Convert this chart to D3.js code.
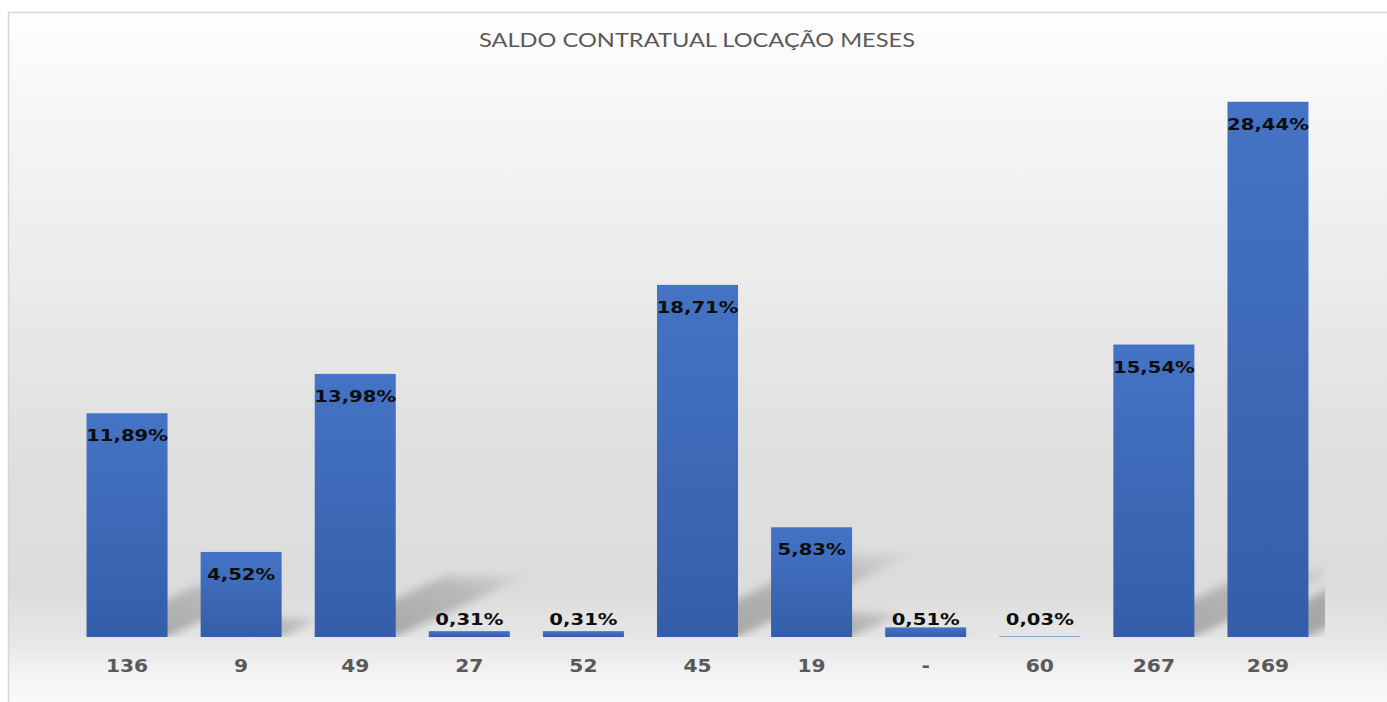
<!DOCTYPE html>
<html><head><meta charset="utf-8">
<script src="https://cdn.jsdelivr.net/npm/d3@7"></script>
<style>html,body{margin:0;padding:0;background:#fff;overflow:hidden}</style>
</head><body>
<svg id="c" width="1387" height="702"></svg>
<script>
const title = "SALDO CONTRATUAL LOCAÇÃO MESES";
const categories = ["136","9","49","27","52","45","19","-","60","267","269"];
const values = [11.89, 4.52, 13.98, 0.31, 0.31, 18.71, 5.83, 0.51, 0.03, 15.54, 28.44];
const valueLabels = ["11,89%","4,52%","13,98%","0,31%","0,31%","18,71%","5,83%","0,51%","0,03%","15,54%","28,44%"];

const W = 1387, H = 702;
const svg = d3.select("#c");
const defs = svg.append("defs");

// background gradient
const bg = defs.append("linearGradient").attr("id","bg").attr("x1",0).attr("y1",0).attr("x2",0).attr("y2",1);
[[0,"#fefefe"],[0.12,"#f7f7f7"],[0.35,"#ececec"],[0.6,"#e0e0e0"],[0.8,"#dcdcdc"],[0.88,"#e8e8e8"],[0.93,"#f6f6f6"],[1,"#fdfdfd"]]
  .forEach(([o,c])=>bg.append("stop").attr("offset",o).attr("stop-color",c));

const barG = defs.append("linearGradient").attr("id","barg").attr("x1",0).attr("y1",0).attr("x2",0).attr("y2",1);
barG.append("stop").attr("offset",0).attr("stop-color","#4573c5");
barG.append("stop").attr("offset",1).attr("stop-color","#345ea9");

const shG = defs.append("linearGradient").attr("id","shg").attr("x1",0).attr("y1",1).attr("x2",1).attr("y2",0);
shG.append("stop").attr("offset",0).attr("stop-color","#8a8a8a").attr("stop-opacity",0.75);
shG.append("stop").attr("offset",0.7).attr("stop-color","#8a8a8a").attr("stop-opacity",0.45);
shG.append("stop").attr("offset",1).attr("stop-color","#8a8a8a").attr("stop-opacity",0.05);

defs.append("filter").attr("id","blur").attr("x","-20%").attr("y","-20%").attr("width","140%").attr("height","140%")
  .append("feGaussianBlur").attr("stdDeviation",4);

defs.append("clipPath").attr("id","plotclip").append("rect")
  .attr("x",60).attr("y",60).attr("width",1325-60).attr("height",637-60);

svg.append("rect").attr("x",8.5).attr("y",12.5).attr("width",1400).attr("height",720)
  .attr("fill","url(#bg)").attr("stroke","#d6d6d6").attr("stroke-width",1.5);

const x = d3.scaleBand().domain(categories).range([70,1325]).paddingInner(0.29).paddingOuter(0.145);
const y = d3.scaleLinear().domain([0,30]).range([637, 637 - 30*18.82]);

const data = categories.map((c,i)=>({c, v:values[i], lab:valueLabels[i]}));

// shadows
const sh = svg.append("g").attr("clip-path","url(#plotclip)").append("g").attr("filter","url(#blur)");
sh.selectAll("path").data(data).join("path")
  .attr("d", d=>{
    const h = y(0)-y(d.v), x0 = x(d.c), x1 = x0 + x.bandwidth(), b = y(0);
    const dx = 0.5*h, dy = 0.235*h;
    return `M${x0},${b}L${x1},${b}L${x1+dx},${b-dy}L${x0+dx},${b-dy}Z`;
  })
  .attr("fill","url(#shg)");

// bars
svg.append("g").selectAll("rect").data(data).join("rect")
  .attr("x", d=>x(d.c)).attr("width", x.bandwidth())
  .attr("y", d=>y(d.v)).attr("height", d=>y(0)-y(d.v))
  .attr("fill","url(#barg)");

// value labels
svg.append("g").selectAll("text").data(data).join("text")
  .attr("transform", d=>`translate(${x(d.c)+x.bandwidth()/2},${Math.min(y(d.v)+28, y(0)-12)}) scale(1.19,1)`)
  .attr("text-anchor","middle")
  .attr("font-family","DejaVu Sans, Verdana, sans-serif").attr("font-weight","bold").attr("font-size",16.5)
  .attr("fill","#0d0d0d")
  .text(d=>d.lab);

// category axis
const ax = svg.append("g").attr("transform",`translate(0,${y(0)})`).call(d3.axisBottom(x).tickSize(0).tickPadding(0));
ax.select(".domain").remove();
ax.selectAll("text")
  .attr("y",0).attr("dy",0)
  .attr("transform", function(){ const t = d3.select(this.parentNode).attr("transform"); return null; })
  .attr("font-family","DejaVu Sans, Verdana, sans-serif").attr("font-weight","bold").attr("font-size",17)
  .attr("fill","#595959")
  .attr("transform","translate(0,35) scale(1.19,1)");

// title
svg.append("text").attr("x",697).attr("y",47).attr("text-anchor","middle")
  .attr("font-family","Lato, 'Open Sans', sans-serif").attr("font-size",19.5).attr("fill","#595959")
  .attr("textLength",436).attr("lengthAdjust","spacingAndGlyphs")
  .text(title);
</script>
</body></html>
